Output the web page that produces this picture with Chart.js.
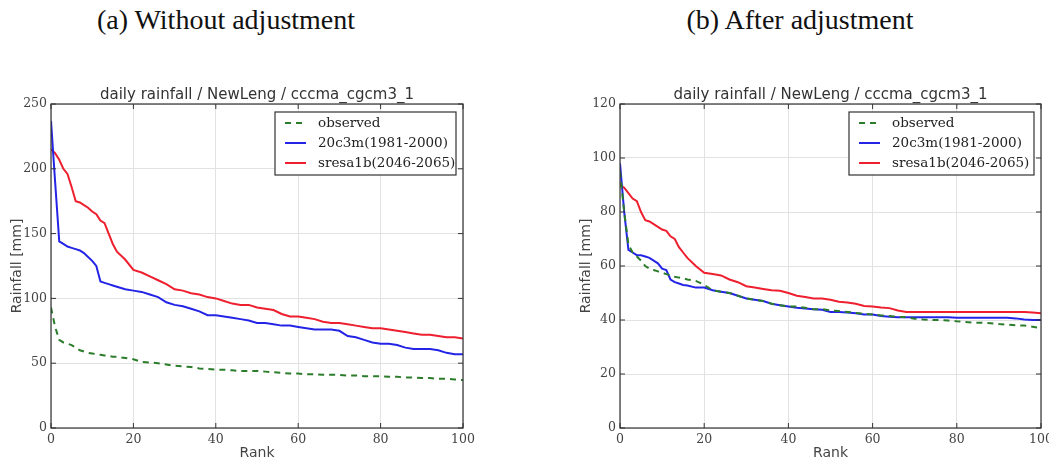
<!DOCTYPE html>
<html>
<head>
<meta charset="utf-8">
<script src="https://cdn.jsdelivr.net/npm/chart.js@4"></script>
<style>
  body { margin: 0; background: #fff; width: 1049px; height: 462px; position: relative; overflow: hidden; }
  .head { position: absolute; top: 4px; font-family: "Liberation Serif", serif; font-size: 28px; color: #111; transform: translateX(-50%); white-space: nowrap; }
  .box { position: absolute; top: 80px; height: 382px; }
</style>
</head>
<body>
<div class="head" style="left:226px">(a) Without adjustment</div>
<div class="head" style="left:800px">(b) After adjustment</div>
<div class="box" style="left:0; width:530px"><canvas id="left"></canvas></div>
<div class="box" style="left:560px; width:489px"><canvas id="right"></canvas></div>
<script>
// ranks on the x axis (shared by every series)
const ranks = [0,1,2,3,4,5,6,7,8,9,10,11,12,13,14,15,16,18,20,22,24,26,28,30,32,34,36,38,40,42,44,46,48,50,52,54,56,58,60,62,64,66,68,70,72,74,76,78,80,82,84,86,88,90,92,94,96,98,100];
const seriesNames = ['observed', '20c3m(1981-2000)', 'sresa1b(2046-2065)'];
const chartTitle = 'daily rainfall / NewLeng / cccma_cgcm3_1';

// (a) without adjustment
const obsRaw = [93,78,68,66,65,64,62,60,59,58,57.5,57,56.5,56,55.5,55,55,54,53,51,50.5,50,49,48,47.5,47,46,45.5,45,45,44.5,44,44,44,43.5,43,42.5,42,42,41.5,41.5,41,41,41,40.5,40.5,40,40,40,39.5,39.5,39,39,38.5,38.5,38,38,37.5,37];
const c20Raw = [237,190,144,142,140,139,138,137,135,132,129,125,113,112,111,110,109,107,106,105,103,101,97,95,94,92,90,87,87,86,85,84,83,81,81,80,79,79,78,77,76,76,76,75,71,70,68,66,65,65,64,62,61,61,61,60,58,57,57];
const a1bRaw = [215,212,207,200,196,186,175,174,172,170,167,165,160,158,150,142,136,130,122,120,117,114,111,107,106,104,103,101,100,98,96,95,95,93,92,91,88,86,86,85,84,82,81,81,80,79,78,77,77,76,75,74,73,72,72,71,70,70,69];

// (b) after adjustment
const obsAdj = [95,80,68,65,63.5,62,60,59,58.5,58,57.5,57,56.5,56,55.7,55.5,55,54.5,53,51,50.5,50,49,48,47.5,47,46,45.5,45,45,44.5,44,44,43.5,43.3,43,42.6,42.3,42,41.7,41.5,41.2,41,40.5,40.2,40,40,39.8,39.5,39.3,39,39,38.8,38.5,38.3,38,38,37.5,37];
const c20Adj = [98,80,66,65,64,64,63.5,63,62,61,59,58.5,55,54,53.5,53,52.8,52,52,51,50.5,50,49,48,47.5,47,46,45.5,45,44.5,44.3,44,43.8,43,43,42.8,42.5,42,42,41.5,41.2,41,41,41,41,41,41,41,40.8,40.8,40.8,40.8,40.8,40.8,40.8,40.6,40.2,40,40];
const a1bAdj = [90,89,87,85,84,80,77,76.5,75.5,74.5,73.5,73,71,70,67,65,63,60,57.5,57,56.5,55,54,52.5,52,51.5,51,50.8,50,49,48.5,48,48,47.5,46.8,46.5,46,45.2,45,44.6,44.4,43.5,43,43,43,43,43,43,43,43,43,43,43,43,43,43,43,42.8,42.5];

const xTicks = [0, 20, 40, 60, 80, 100];
const leftYTicks = [0, 50, 100, 150, 200, 250];
const rightYTicks = [0, 20, 40, 60, 80, 100, 120];

const colors = ['#2b7d2b', '#2424e6', '#ee1f2e'];
const serif = '"DejaVu Serif", serif';
const sans = '"DejaVu Sans", sans-serif';

const pts = vals => ranks.map((r, i) => ({ x: r, y: vals[i] }));

// axes title, frame, inward ticks and an in-plot legend, matplotlib style
const framePlugin = {
  id: 'frame',
  afterDraw(chart, args, opts) {
    const { ctx, chartArea: a, scales } = chart;
    ctx.save();
    ctx.fillStyle = '#333';
    ctx.font = '15px ' + sans;
    ctx.textAlign = 'center';
    ctx.textBaseline = 'middle';
    ctx.fillText(chartTitle, (a.left + a.right) / 2, a.top - 9);

    ctx.strokeStyle = '#333';
    ctx.lineWidth = 1.2;
    ctx.strokeRect(a.left, a.top, a.right - a.left, a.bottom - a.top);
    ctx.lineWidth = 1;
    scales.x.ticks.forEach(t => {
      const px = scales.x.getPixelForValue(t.value);
      ctx.beginPath();
      ctx.moveTo(px, a.bottom); ctx.lineTo(px, a.bottom - 5);
      ctx.moveTo(px, a.top); ctx.lineTo(px, a.top + 5);
      ctx.stroke();
    });
    scales.y.ticks.forEach(t => {
      const py = scales.y.getPixelForValue(t.value);
      ctx.beginPath();
      ctx.moveTo(a.left, py); ctx.lineTo(a.left + 5, py);
      ctx.moveTo(a.right, py); ctx.lineTo(a.right - 5, py);
      ctx.stroke();
    });
    // legend box
    const bx = a.right - opts.width - 7, by = a.top + 8;
    ctx.fillStyle = '#fff';
    ctx.fillRect(bx, by, opts.width, 63);
    ctx.strokeStyle = '#333';
    ctx.lineWidth = 1.2;
    ctx.strokeRect(bx, by, opts.width, 63);
    ctx.font = '13.5px ' + serif;
    ctx.textAlign = 'left';
    chart.data.datasets.forEach((ds, i) => {
      const y = by + 11 + i * 20;
      ctx.strokeStyle = ds.borderColor;
      ctx.lineWidth = 2;
      ctx.setLineDash(ds.borderDash || []);
      ctx.beginPath();
      ctx.moveTo(bx + 10, y); ctx.lineTo(bx + 31, y);
      ctx.stroke();
      ctx.setLineDash([]);
      ctx.fillStyle = '#222';
      ctx.fillText(ds.label, bx + 43, y);
    });
    ctx.restore();
  }
};

function makeChart(id, obs, c20, a1b, yTicks, yMax, padLeft, padRight, legendW) {
  new Chart(document.getElementById(id), {
    type: 'line',
    data: {
      datasets: [obs, c20, a1b].map((vals, i) => ({
        label: seriesNames[i],
        data: pts(vals),
        borderColor: colors[i],
        borderWidth: 2,
        borderDash: i === 0 ? [6, 5] : undefined,
        pointRadius: 0,
        tension: 0,
        fill: false
      }))
    },
    options: {
      responsive: true,
      maintainAspectRatio: false,
      animation: false,
      layout: { autoPadding: false, padding: { left: padLeft, right: padRight, top: 24, bottom: 0 } },
      plugins: {
        legend: { display: false },
        tooltip: { enabled: false },
        title: { display: false },
        frame: { width: legendW }
      },
      scales: {
        x: {
          type: 'linear', min: 0, max: 100,
          afterBuildTicks: s => { s.ticks = xTicks.map(v => ({ value: v })); },
          grid: { color: '#e2e2e2', drawTicks: false },
          border: { display: false },
          ticks: { color: '#444', font: { family: serif, size: 12.5 }, padding: 4, maxRotation: 0 },
          title: { display: true, text: 'Rank', color: '#444', font: { family: sans, size: 14 }, padding: 0 },
          afterFit: s => { s.height = 34; s.paddingLeft = 0; s.paddingRight = 0; }
        },
        y: {
          type: 'linear', min: 0, max: yMax,
          afterBuildTicks: s => { s.ticks = yTicks.map(v => ({ value: v })); },
          grid: { color: '#e2e2e2', drawTicks: false },
          border: { display: false },
          ticks: { color: '#444', font: { family: serif, size: 12.5 }, padding: 4 },
          title: { display: true, text: 'Rainfall [mm]', color: '#444', font: { family: sans, size: 14 }, padding: 0 },
          afterFit: s => { s.width = 42; s.paddingTop = 0; s.paddingBottom = 0; }
        }
      }
    },
    plugins: [framePlugin]
  });
}

makeChart('left', obsRaw, c20Raw, a1bRaw, leftYTicks, 250, 9, 67, 181);
makeChart('right', obsAdj, c20Adj, a1bAdj, rightYTicks, 120, 18, 8, 185);
</script>
</body>
</html>
